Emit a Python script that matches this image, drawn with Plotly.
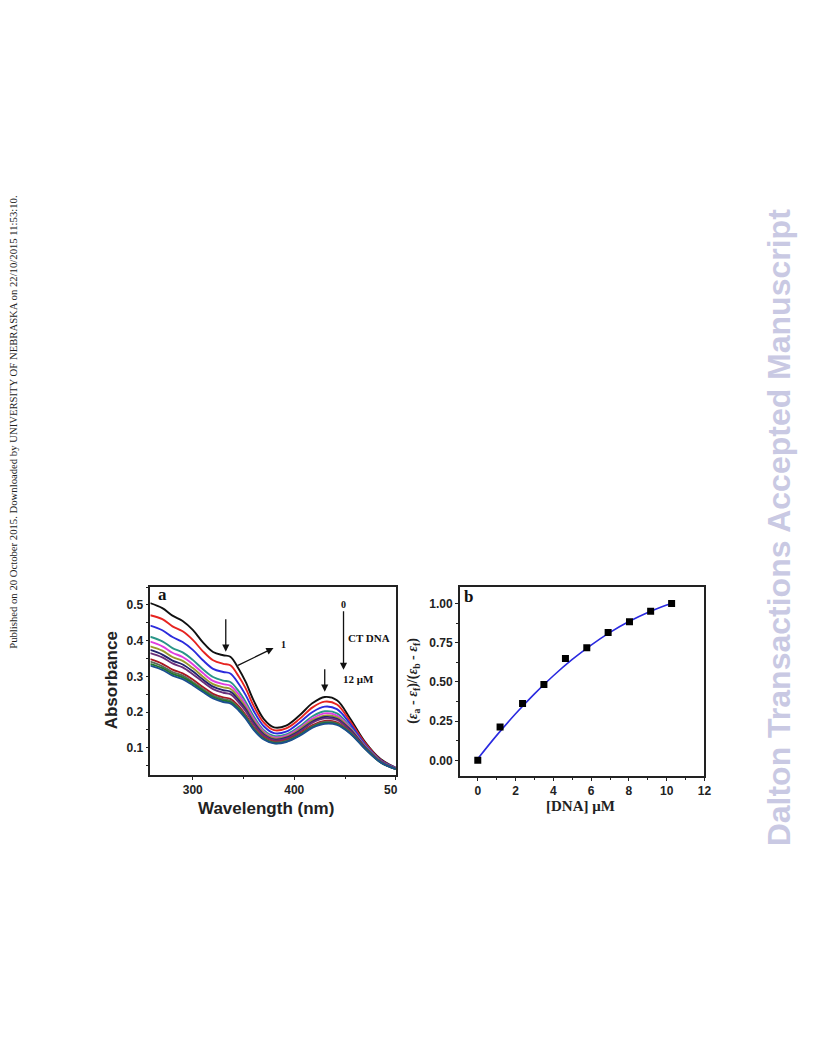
import plotly.graph_objects as go

# ---------------- Panel a data: UV-vis titration spectra ----------------
wavelength = [258, 270, 280, 290, 300, 310, 320, 330, 337, 345, 352, 360, 370, 380, 392, 405, 418, 430, 442, 455, 470, 485, 500]

spec_0  = [.505, .491, .470, .455, .430, .395, .368, .359, .355, .322, .285, .232, .180, .157, .162, .190, .225, .242, .233, .182, .115, .068, .044]
spec_1  = [.471, .460, .440, .426, .402, .370, .345, .335, .331, .301, .267, .217, .170, .149, .154, .180, .213, .229, .221, .174, .112, .066, .043]
spec_2  = [.442, .429, .410, .396, .374, .345, .321, .312, .308, .280, .248, .203, .160, .141, .145, .170, .200, .215, .208, .167, .108, .065, .043]
spec_3  = [.411, .398, .379, .367, .346, .320, .298, .288, .284, .259, .229, .188, .149, .133, .137, .159, .188, .202, .196, .159, .105, .063, .042]
spec_4  = [.397, .384, .366, .354, .334, .309, .287, .278, .274, .250, .221, .181, .145, .129, .134, .155, .182, .196, .190, .156, .103, .062, .042]
spec_5  = [.384, .372, .354, .343, .323, .299, .278, .269, .265, .241, .214, .175, .141, .126, .130, .151, .177, .190, .185, .153, .102, .062, .041]
spec_6  = [.374, .361, .344, .333, .314, .291, .271, .261, .257, .234, .208, .171, .137, .123, .128, .147, .173, .186, .181, .151, .101, .061, .041]
spec_7  = [.365, .353, .336, .325, .306, .284, .264, .254, .250, .228, .203, .166, .134, .121, .125, .144, .170, .182, .178, .148, .100, .061, .041]
spec_8  = [.348, .335, .319, .308, .291, .270, .251, .241, .237, .217, .192, .158, .129, .117, .121, .139, .163, .175, .171, .144, .098, .060, .040]
spec_9  = [.341, .328, .312, .302, .284, .264, .246, .236, .232, .212, .188, .155, .126, .115, .119, .136, .160, .172, .168, .143, .097, .060, .040]
spec_10 = [.335, .323, .307, .297, .280, .260, .242, .232, .228, .209, .185, .152, .125, .113, .117, .135, .158, .169, .166, .141, .097, .059, .040]
spec_11 = [.330, .318, .302, .292, .275, .256, .238, .228, .224, .205, .182, .150, .123, .112, .116, .133, .156, .167, .164, .140, .096, .059, .040]

spectra = [spec_0, spec_1, spec_2, spec_3, spec_4, spec_5, spec_6, spec_7, spec_8, spec_9, spec_10, spec_11]
spec_colors = ["#111111", "#e62420", "#2b2bdc", "#2a9688", "#e03ce0", "#9a9a2c",
               "#23236e", "#6a2f7a", "#a81822", "#5a6a5a", "#1f7a2a", "#1c4f8f"]

a_xticks = [300, 400, 500]
a_xticklabels = ["300", "400", "50\u00a0\u00a0\u00a0"]
a_yticks = [0.1, 0.2, 0.3, 0.4, 0.5]

# ---------------- Panel b data ----------------
dna_conc = [0, 1.18, 2.37, 3.50, 4.64, 5.77, 6.90, 8.03, 9.15, 10.26]
eps_ratio = [0.0, 0.213, 0.362, 0.483, 0.649, 0.717, 0.815, 0.883, 0.951, 1.0]
fit_x = [0, 1, 2, 3, 4, 5, 6, 7, 8, 9, 10, 10.3]
fit_y = [0.010, 0.159, 0.297, 0.424, 0.539, 0.643, 0.735, 0.816, 0.885, 0.943, 0.990, 1.002]

b_xticks = [0, 2, 4, 6, 8, 10, 12]
b_yticks = [0.0, 0.25, 0.5, 0.75, 1.0]
b_yticklabels = ["0.00", "0.25", "0.50", "0.75", "1.00"]

W, H = 816, 1056
def px(x):
    return x / W
def py(y):
    return 1 - y / H

fig = go.Figure()

for s, c in zip(spectra, spec_colors):
    fig.add_trace(go.Scatter(x=wavelength, y=s, mode="lines",
                             line=dict(color=c, width=1.9, shape="spline", smoothing=1.0),
                             xaxis="x", yaxis="y", showlegend=False, hoverinfo="skip"))

fig.add_trace(go.Scatter(x=fit_x, y=fit_y, mode="lines",
                         line=dict(color="#2a2ae0", width=1.6, shape="spline"),
                         xaxis="x2", yaxis="y2", showlegend=False))
fig.add_trace(go.Scatter(x=dna_conc, y=eps_ratio, mode="markers",
                         marker=dict(symbol="square", size=7, color="#000000"),
                         xaxis="x2", yaxis="y2", showlegend=False))

tickfont = dict(family="Liberation Sans, Arial", size=12, color="#222222", weight="bold")
axis_common = dict(showline=True, linecolor="#222222", linewidth=1.5, mirror=True,
                   tickwidth=1.2, tickcolor="#222222", ticks="outside", ticklen=3,
                   showgrid=False, zeroline=False, tickfont=tickfont)

fig.update_layout(
    width=W, height=H,
    margin=dict(l=0, r=0, t=0, b=0),
    paper_bgcolor="white", plot_bgcolor="white",
    xaxis=dict(domain=[px(152.7), px(401.7)], range=[258.3, 500], anchor="y",
               tickvals=a_xticks, ticktext=a_xticklabels,
               minor=dict(ticks="outside", ticklen=2.5, dtick=50, tick0=250, tickcolor="#222222"),
               **axis_common),
    yaxis=dict(domain=[py(775), py(586.7)], range=[0.0235, 0.551], anchor="x",
               tickvals=a_yticks, tickformat=".1f",
               minor=dict(ticks="outside", ticklen=2.5, dtick=0.05, tick0=0, tickcolor="#222222"),
               **axis_common),
    xaxis2=dict(domain=[px(466.7), px(715)], range=[-0.95, 12], anchor="y2",
                tickvals=b_xticks,
                minor=dict(ticks="outside", ticklen=2.5, dtick=1, tick0=0, tickcolor="#222222"),
                **axis_common),
    yaxis2=dict(domain=[py(776), py(586.7)], range=[-0.10, 1.107], anchor="x2",
                tickvals=b_yticks, ticktext=b_yticklabels,
                minor=dict(ticks="outside", ticklen=2.5, dtick=0.125, tick0=0, tickcolor="#222222"),
                **axis_common),
)

serif = "Liberation Serif, Times New Roman"
sans = "Liberation Sans, Arial"
ann = []
# axis titles
ann.append(dict(x=px(270), y=py(808), xref="paper", yref="paper", text="Wavelength (nm)", showarrow=False,
                xanchor="center", yanchor="middle",
                font=dict(family=sans, size=17, color="#222222", weight="bold")))
ann.append(dict(x=px(113), y=py(680), xref="paper", yref="paper", text="Absorbance", showarrow=False,
                textangle=-90, xanchor="center", yanchor="middle",
                font=dict(family=sans, size=17, color="#222222", weight="bold")))
ann.append(dict(x=px(589), y=py(806), xref="paper", yref="paper", text="[DNA] μM", showarrow=False,
                xanchor="center", yanchor="middle",
                font=dict(family=serif, size=15, color="#222222", weight="bold")))
ann.append(dict(x=px(419), y=py(681), xref="paper", yref="paper",
                text="(<i>ε</i><sub>a</sub> - <i>ε</i><sub>f</sub>)/(<i>ε</i><sub>b</sub> - <i>ε</i><sub>f</sub>)",
                showarrow=False, textangle=-90, xanchor="center", yanchor="middle",
                font=dict(family=serif, size=14, color="#222222", weight="bold")))
# panel labels
ann.append(dict(x=270.2, y=0.528, xref="x", yref="y", text="<b>a</b>", showarrow=False,
                font=dict(family=serif, size=17, color="#111111")))
ann.append(dict(x=-0.49, y=1.042, xref="x2", yref="y2", text="<b>b</b>", showarrow=False,
                font=dict(family=serif, size=17, color="#111111")))
arrow_style = dict(showarrow=True, arrowhead=2, arrowsize=1.1, arrowwidth=1.3, arrowcolor="#111111",
                   axref="pixel", ayref="pixel", text="")
# shoulder arrow
ann.append(dict(x=332.5, y=0.369, xref="x", yref="y", ax=0, ay=-34, **arrow_style))
# arrow to label "1"
ann.append(dict(x=379.5, y=0.379, xref="x", yref="y", ax=-37, ay=18, **arrow_style))
ann.append(dict(x=389.5, y=0.388, xref="x", yref="y", text="<b>1</b>", showarrow=False,
                font=dict(family=serif, size=10, color="#111111")))
# peak arrow
ann.append(dict(x=430, y=0.257, xref="x", yref="y", ax=0, ay=-24, **arrow_style))
# titration arrow
ann.append(dict(x=448.5, y=0.500, xref="x", yref="y", text="<b>0</b>", showarrow=False,
                font=dict(family=serif, size=10, color="#111111")))
ann.append(dict(x=448.5, y=0.318, xref="x", yref="y", ax=0, ay=-60, **arrow_style))
ann.append(dict(x=451, y=0.407, xref="x", yref="y", text="<b>CT DNA</b>", showarrow=False,
                xanchor="left", font=dict(family=serif, size=11, color="#111111")))
ann.append(dict(x=446, y=0.293, xref="x", yref="y", text="<b>12 μM</b>", showarrow=False,
                xanchor="left", font=dict(family=serif, size=11, color="#111111")))
# side texts
ann.append(dict(x=px(13), y=py(422), xref="paper", yref="paper", textangle=-90, showarrow=False,
                xanchor="center", yanchor="middle",
                text="Published on 20 October 2015. Downloaded by UNIVERSITY OF NEBRASKA on 22/10/2015 11:53:10.",
                font=dict(family=serif, size=10.7, color="#222222")))
ann.append(dict(x=px(791), y=py(527), xref="paper", yref="paper", textangle=-90, showarrow=False,
                xanchor="center", yanchor="middle",
                text="Dalton Transactions Accepted Manuscript",
                font=dict(family=sans, size=32, color="#c9c9e3", weight="bold")))
fig.update_layout(annotations=ann)

fig.write_html("out.html", config={"displayModeBar": False},
               post_script="document.body.style.margin='0px'; document.documentElement.style.overflow='hidden';")
